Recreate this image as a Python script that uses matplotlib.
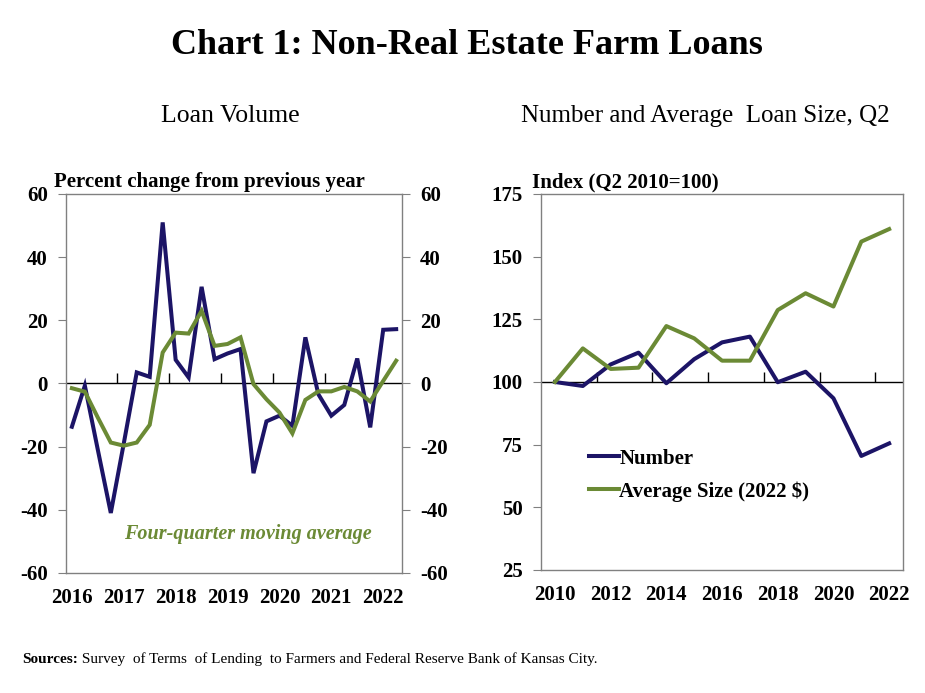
import matplotlib
matplotlib.use('Agg')
import matplotlib.pyplot as plt

# ── Colours / fonts ───────────────────────────────────────────────────────────
NAVY = '#1C1466'
GREEN = '#6B8A35'
GRAY = '#808080'
SERIF = 'Liberation Serif'
plt.rcParams['font.family'] = [SERIF, 'DejaVu Serif']

# ── Data: left panel (quarterly, 2016 Q1 – 2022 Q2) ───────────────────────────
quarter_idx = list(range(26))
loan_volume = [-13.7, -0.7, -21.0, -41.0, -19.0, 3.5, 2.1, 51.0, 7.5, 1.9,
               30.6, 7.7, 9.5, 10.9, -28.4, -12.0, -10.2, -13.4, 14.6, -3.4,
               -10.2, -6.8, 7.9, -13.9, 17.0, 17.2]
moving_avg = [-1.5, -2.6, -10.8, -18.7, -19.7, -18.7, -13.1, 9.8, 16.1, 15.8,
              23.0, 11.9, 12.5, 14.6, -0.2, -5.0, -9.2, -15.8, -5.2, -2.5,
              -2.5, -1.1, -2.5, -5.7, 0.8, 7.2]
left_year_pos = [0, 4, 8, 12, 16, 20, 24]
left_year_labels = ['2016', '2017', '2018', '2019', '2020', '2021', '2022']
left_tick_pos = [3.5, 7.5, 11.5, 15.5, 19.5, 23.5]
left_yticks = [-60, -40, -20, 0, 20, 40, 60]

# ── Data: right panel (annual Q2, 2010 – 2022) ────────────────────────────────
years = list(range(2010, 2023))
number_idx = [100.0, 98.4, 107.0, 111.7, 99.5, 109.1, 115.8, 118.1, 99.9,
              104.1, 93.5, 70.5, 75.5]
avg_size_idx = [100.0, 113.4, 105.2, 105.7, 122.3, 117.4, 108.5, 108.5,
                128.7, 135.4, 130.1, 156.0, 161.0]
right_year_labels = ['2010', '2012', '2014', '2016', '2018', '2020', '2022']
right_tick_pos = [2011.5, 2013.5, 2015.5, 2017.5, 2019.5, 2021.5]
right_yticks = [25, 50, 75, 100, 125, 150, 175]

TICK_FS = 15
LABEL_FS = 15
LW = 2.9

fig = plt.figure(figsize=(9.25, 6.93), dpi=100)
fig.patch.set_facecolor('white')

ax1 = fig.add_axes([0.0714, 0.1732, 0.3632, 0.5469])
ax2 = fig.add_axes([0.5849, 0.1775, 0.3914, 0.5426])


def style_box(ax):
    for s in ax.spines.values():
        s.set_color(GRAY)
        s.set_linewidth(1.0)


def bold_ticks(ax):
    for lab in ax.get_xticklabels() + ax.get_yticklabels():
        lab.set_fontsize(TICK_FS)
        lab.set_fontweight('bold')
    for t in ax.yaxis.get_major_ticks():
        t.label2.set_fontsize(TICK_FS)
        t.label2.set_fontweight('bold')


def zero_ticks(ax, positions, ymin, ymax, zero):
    # tick marks hanging from the zero line
    sec = ax.secondary_xaxis((zero - ymin) / (ymax - ymin))
    sec.set_xticks(positions)
    sec.tick_params(axis='x', direction='out', length=7, width=1,
                    color='black', labelbottom=False, labeltop=False)
    sec.spines['bottom'].set_visible(False)
    sec.spines['top'].set_visible(False)


# ── Left panel ────────────────────────────────────────────────────────────────
ax1.plot(quarter_idx, loan_volume, color=NAVY, lw=LW, solid_joinstyle='miter')
ax1.plot(quarter_idx, moving_avg, color=GREEN, lw=LW, solid_joinstyle='miter')
ax1.axhline(0, color='black', lw=1.0, zorder=1)
ax1.set_xlim(-0.45, 25.45)
ax1.set_ylim(-60, 60)
ax1.set_yticks(left_yticks)
ax1.set_yticklabels([str(v) for v in left_yticks])
ax1.set_xticks(left_year_pos)
ax1.set_xticklabels(left_year_labels)
ax1.tick_params(axis='x', length=0, pad=11)
ax1.tick_params(axis='y', direction='out', length=6, color=GRAY,
                left=True, right=True, labelleft=True, labelright=True, pad=7)
bold_ticks(ax1)
style_box(ax1)
zero_ticks(ax1, left_tick_pos, -60, 60, 0)
ax1.text(-0.035, 1.005, 'Percent change from previous year', transform=ax1.transAxes,
         fontsize=LABEL_FS, fontweight='bold', ha='left', va='bottom')
ax1.text(0.173, 0.103, 'Four-quarter moving average', transform=ax1.transAxes,
         fontsize=14.5, fontweight='bold', fontstyle='italic', color=GREEN,
         ha='left', va='center')

# ── Right panel ───────────────────────────────────────────────────────────────
ax2.plot(years, number_idx, color=NAVY, lw=LW, label='Number')
ax2.plot(years, avg_size_idx, color=GREEN, lw=LW, label='Average Size (2022 $)')
ax2.axhline(100, color='black', lw=1.0, zorder=1)
ax2.set_xlim(2009.5, 2022.5)
ax2.set_ylim(25, 175)
ax2.set_yticks(right_yticks)
ax2.set_yticklabels([str(v) for v in right_yticks])
ax2.set_xticks(years[::2])
ax2.set_xticklabels(right_year_labels)
ax2.tick_params(axis='x', length=0, pad=11)
ax2.tick_params(axis='y', direction='out', length=6, color=GRAY, pad=7)
bold_ticks(ax2)
style_box(ax2)
zero_ticks(ax2, right_tick_pos, 25, 175, 100)
ax2.text(-0.025, 1.005, 'Index (Q2 2010=100)', transform=ax2.transAxes,
         fontsize=LABEL_FS, fontweight='bold', ha='left', va='bottom')
ax2.legend(loc='center left', bbox_to_anchor=(0.133, 0.252), frameon=False,
           handlelength=1.45, handletextpad=0.0, borderpad=0,
           borderaxespad=0, labelspacing=0.6,
           prop={'family': SERIF, 'weight': 'bold', 'size': 15})

# ── Titles / notes ────────────────────────────────────────────────────────────
fig.text(0.505, 0.935, 'Chart 1: Non-Real Estate Farm Loans', ha='center', va='center',
         fontsize=26, fontweight='bold')
fig.text(0.249, 0.833, 'Loan Volume', ha='center', va='center', fontsize=18.5)
fig.text(0.762, 0.833, 'Number and Average  Loan Size, Q2', ha='center', va='center',
         fontsize=18)

src_y = 1 - 663 / 693
src = fig.text(0.024, src_y, 'Sources:', ha='left', va='baseline',
               fontsize=11, fontweight='bold')
bb = src.get_window_extent(renderer=fig.canvas.get_renderer())
fig.text(bb.x1 / fig.bbox.width, src_y,
         ' Survey  of Terms  of Lending  to Farmers and Federal Reserve Bank of Kansas City.',
         ha='left', va='baseline', fontsize=11)

fig.savefig('out.png', dpi=100)
